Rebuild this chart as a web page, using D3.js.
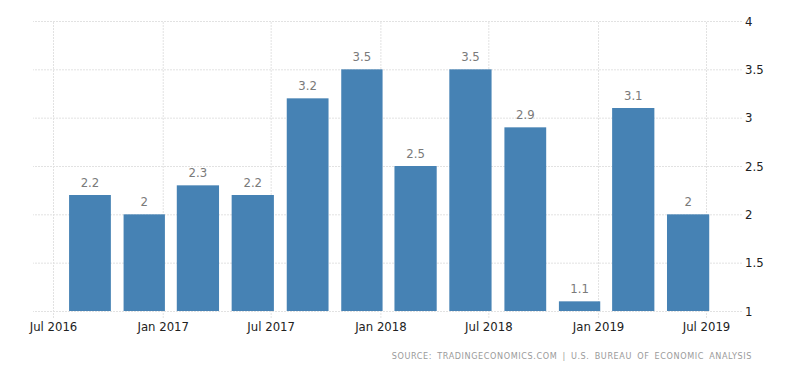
<!DOCTYPE html>
<html>
<head>
<meta charset="utf-8">
<script src="https://cdn.jsdelivr.net/npm/d3@7"></script>
<style>
  body { margin: 0; background: #fff; }
  svg text { font-family: "DejaVu Sans Condensed", "DejaVu Sans", sans-serif; }
</style>
</head>
<body>
<div id="chart-container"></div>
<script>
// quarterly values, plotted at the last month of each quarter
const quarters = ["2016-09", "2016-12", "2017-03", "2017-06", "2017-09", "2017-12",
                  "2018-03", "2018-06", "2018-09", "2018-12", "2019-03", "2019-06"];
const values = [2.2, 2.0, 2.3, 2.2, 3.2, 3.5, 2.5, 3.5, 2.9, 1.1, 3.1, 2.0];
const valueLabels = ["2.2", "2", "2.3", "2.2", "3.2", "3.5", "2.5", "3.5", "2.9", "1.1", "3.1", "2"];
const xTicks = ["2016-07", "2017-01", "2017-07", "2018-01", "2018-07", "2019-01", "2019-07"];
const xTickLabels = ["Jul 2016", "Jan 2017", "Jul 2017", "Jan 2018", "Jul 2018", "Jan 2019", "Jul 2019"];
const yTicks = [1, 1.5, 2, 2.5, 3, 3.5, 4];
const sourceText = "SOURCE: TRADINGECONOMICS.COM | U.S. BUREAU OF ECONOMIC ANALYSIS";

const width = 800, height = 373;
const parseMonth = d3.timeParse("%Y-%m");

const svg = d3.select("#chart-container")
    .append("svg")
    .attr("width", width)
    .attr("height", height);

const x = d3.scaleTime()
    .domain([parseMonth(xTicks[0]), parseMonth(xTicks[xTicks.length - 1])])
    .range([53, 706]);

const y = d3.scaleLinear()
    .domain([1, 4])
    .range([311, 21]);

// horizontal gridlines + right axis labels
const yAxis = svg.append("g")
    .attr("transform", "translate(742,0)")
    .call(d3.axisRight(y).tickValues(yTicks).tickSize(-709).tickFormat(d3.format("")));
yAxis.select(".domain").remove();
yAxis.selectAll("line").attr("stroke", "#e2e2e2").attr("stroke-dasharray", "2,1");
yAxis.selectAll("text")
    .attr("x", 3)
    .attr("fill", "#222")
    .style("font-size", "13px");

// vertical gridlines + bottom axis labels
const xDates = xTicks.map(parseMonth);
const xAxis = svg.append("g")
    .attr("transform", "translate(0,318)")
    .call(d3.axisBottom(x).tickValues(xDates).tickSize(-297)
        .tickFormat((d, i) => xTickLabels[i]));
xAxis.select(".domain").remove();
xAxis.selectAll("line").attr("stroke", "#e2e2e2").attr("stroke-dasharray", "2,1");
xAxis.selectAll("text")
    .attr("y", 4)
    .attr("dy", "0.71em")
    .attr("fill", "#222")
    .style("font-size", "13px");

// bars
const data = quarters.map((q, i) => ({ date: parseMonth(q), value: values[i], label: valueLabels[i] }));
const barW = d => (x(d3.timeMonth.offset(d.date, 3)) - x(d.date)) * 0.77;

svg.selectAll(".bar")
    .data(data)
    .enter()
    .append("rect")
    .attr("class", "bar")
    .attr("x", d => x(d.date) - barW(d) / 2)
    .attr("y", d => y(d.value))
    .attr("width", d => barW(d))
    .attr("height", d => y(1) - y(d.value))
    .attr("fill", "#4682b4");

// value labels above bars
svg.selectAll(".val")
    .data(data)
    .enter()
    .append("text")
    .attr("class", "val")
    .attr("x", d => x(d.date))
    .attr("y", d => y(d.value) - 8)
    .attr("text-anchor", "middle")
    .attr("fill", "#7a7a7a")
    .style("font-size", "13px")
    .text(d => d.label);

// source line
svg.append("text")
    .attr("x", 752)
    .attr("y", 359)
    .attr("text-anchor", "end")
    .attr("fill", "#9a9a9a")
    .style("font-size", "9px")
    .style("letter-spacing", "0.6px")
    .style("word-spacing", "2px")
    .text(sourceText);
</script>
</body>
</html>
